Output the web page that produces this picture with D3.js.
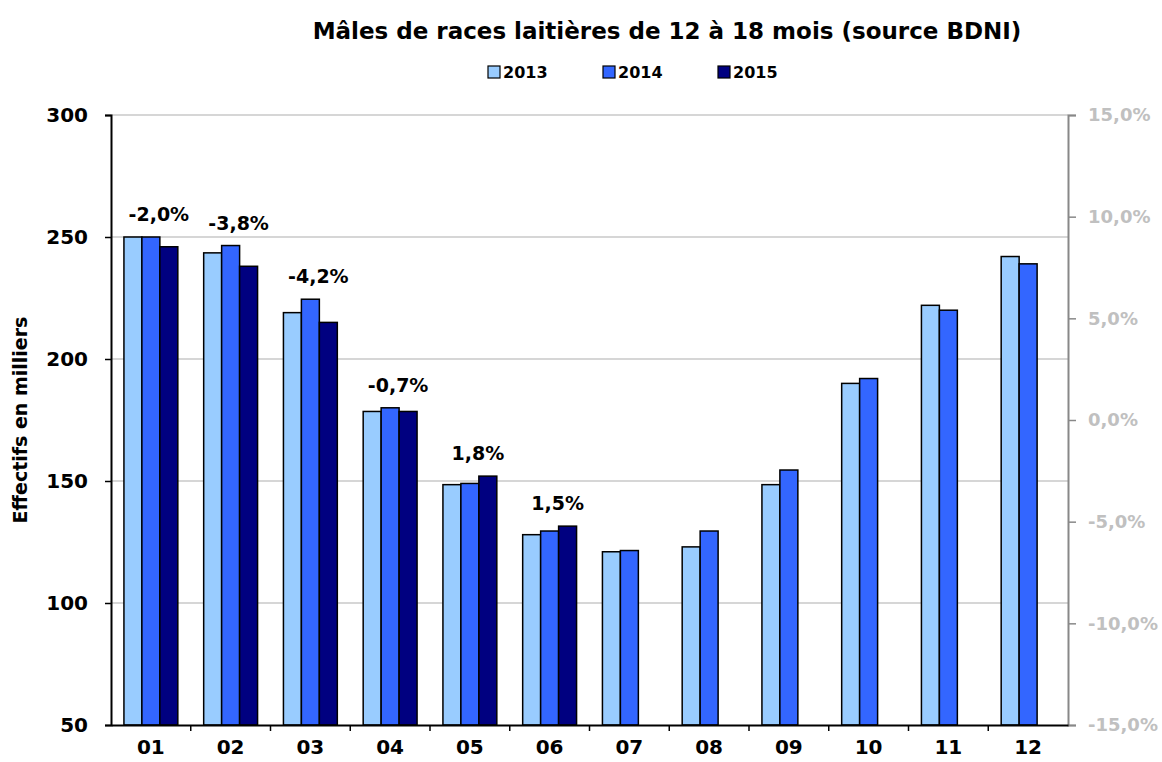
<!DOCTYPE html>
<html>
    <head>
        <title>Mâles de races laitières</title>
        <script src="https://d3js.org/d3.v7.min.js"></script>
        <style>
            body { margin: 0; background: #fff; }
            svg { font-family: 'DejaVu Sans', Arial, sans-serif; }
        </style>
    </head>
    <body>
        <script>
            const months = ['01', '02', '03', '04', '05', '06', '07', '08', '09', '10', '11', '12']
            const years = ['2013', '2014', '2015']
            const values2013 = [250, 243.5, 219, 178.5, 148.5, 128, 121, 123, 148.5, 190, 222, 242]
            const values2014 = [250, 246.5, 224.5, 180, 149, 129.5, 121.5, 129.5, 154.5, 192, 220, 239]
            const values2015 = [246, 238, 215, 178.5, 152, 131.5]
            const evolution = ['-2,0%', '-3,8%', '-4,2%', '-0,7%', '1,8%', '1,5%']
            const leftTicks = [50, 100, 150, 200, 250, 300]
            const rightTicks = [-0.15, -0.10, -0.05, 0, 0.05, 0.10, 0.15]
            const colors = { '2013': '#99CCFF', '2014': '#3366FF', '2015': '#000080' }

            const margin = { top: 115, right: 94, bottom: 37, left: 111 }
            const W = 1162, H = 762
            const width = W - margin.left - margin.right
            const height = H - margin.top - margin.bottom

            const svg = d3.select('body').append('svg')
                .attr('width', W).attr('height', H)

            svg.append('text')
                .attr('x', 667).attr('y', 39)
                .attr('text-anchor', 'middle')
                .style('font-size', '23px').style('font-weight', 'bold')
                .text('Mâles de races laitières de 12 à 18 mois (source BDNI)')

            // legend
            const legend = svg.append('g').attr('transform', 'translate(488, 78)')
            years.forEach((y, i) => {
                const lg = legend.append('g').attr('transform', `translate(${i * 115}, 0)`)
                lg.append('rect').attr('x', 0).attr('y', -12).attr('width', 12).attr('height', 12)
                    .attr('fill', colors[y]).attr('stroke', 'black').attr('stroke-width', 1.2)
                lg.append('text').attr('x', 15).attr('y', 0)
                    .style('font-size', '16px').style('font-weight', 'bold')
                    .text(y)
            })

            const g = svg.append('g')
                .attr('transform', `translate(${margin.left}, ${margin.top})`)

            const x = d3.scaleBand().domain(months).range([0, width])
            const x1 = d3.scaleBand().domain(years).range([0, x.bandwidth()])
                .paddingInner(0).paddingOuter(0.72)
            const y = d3.scaleLinear().domain([50, 300]).range([height, 0])
            const yR = d3.scaleLinear().domain([-0.15, 0.15]).range([height, 0])

            const fr = d3.formatLocale({ decimal: ',', thousands: ' ', grouping: [3], currency: ['', '€'], minus: '-' })
            const pct = fr.format('.1%')

            // gridlines
            g.selectAll('.grid')
                .data(leftTicks.slice(1)).enter()
                .append('line')
                    .attr('class', 'grid')
                    .attr('x1', 0).attr('x2', width)
                    .attr('y1', d => y(d)).attr('y2', d => y(d))
                    .attr('stroke', '#c8c8c8').attr('stroke-width', 1.5)

            // bars
            const series = { '2013': values2013, '2014': values2014, '2015': values2015 }
            years.forEach(yr => {
                g.selectAll('.bar' + yr)
                    .data(series[yr]).enter()
                    .append('rect')
                        .attr('x', (d, i) => x(months[i]) + x1(yr))
                        .attr('y', d => y(d))
                        .attr('width', x1.bandwidth())
                        .attr('height', d => height - y(d))
                        .attr('fill', colors[yr])
                        .attr('stroke', 'black').attr('stroke-width', 1.5)
            })

            // evolution labels
            g.selectAll('.evo')
                .data(evolution).enter()
                .append('text')
                    .attr('x', (d, i) => x(months[i]) + x.bandwidth() / 2 + 8)
                    .attr('y', (d, i) => y(Math.max(values2013[i], values2014[i], values2015[i])) - 16)
                    .attr('text-anchor', 'middle')
                    .style('font-size', '19px').style('font-weight', 'bold')
                    .text(d => d)

            // left axis
            const yAxis = d3.axisLeft(y).tickValues(leftTicks).tickSize(6).tickPadding(17)
            const ga = g.append('g').call(yAxis).attr('font-family', null)
            ga.select('.domain').attr('stroke', 'black').attr('stroke-width', 2)
            ga.selectAll('line').attr('stroke', 'black').attr('stroke-width', 1.5)
            ga.selectAll('text').style('font-size', '20px').style('font-weight', 'bold').attr('fill', 'black')

            // right axis
            const yAxisR = d3.axisRight(yR).tickValues(rightTicks).tickSize(8).tickPadding(12)
                .tickFormat(d => pct(d))
            const gr = g.append('g').attr('transform', `translate(${width}, 0)`).call(yAxisR)
                .attr('font-family', null)
            gr.select('.domain').attr('stroke', '#888').attr('stroke-width', 2)
            gr.selectAll('line').attr('stroke', '#888').attr('stroke-width', 1.5)
            gr.selectAll('text').style('font-size', '18px').style('font-weight', 'bold').attr('fill', '#c0c0c0')

            // bottom axis
            const xAxis = d3.axisBottom(x).tickSize(0).tickPadding(15)
            const gx = g.append('g').attr('transform', `translate(0, ${height})`).call(xAxis)
                .attr('font-family', null)
            gx.select('.domain').attr('stroke', 'black').attr('stroke-width', 2)
            gx.selectAll('text').style('font-size', '20px').style('font-weight', 'bold').attr('fill', 'black')
            gx.selectAll('.sep')
                .data(months.slice(1)).enter()
                .append('line')
                    .attr('class', 'sep')
                    .attr('x1', d => x(d)).attr('x2', d => x(d))
                    .attr('y1', 0).attr('y2', 6)
                    .attr('stroke', 'black').attr('stroke-width', 1.5)

            // y axis title
            svg.append('text')
                .attr('transform', `translate(27, ${margin.top + height / 2}) rotate(-90)`)
                .attr('text-anchor', 'middle')
                .style('font-size', '19px').style('font-weight', 'bold')
                .text('Effectifs en milliers')
        </script>
    </body>
</html>
